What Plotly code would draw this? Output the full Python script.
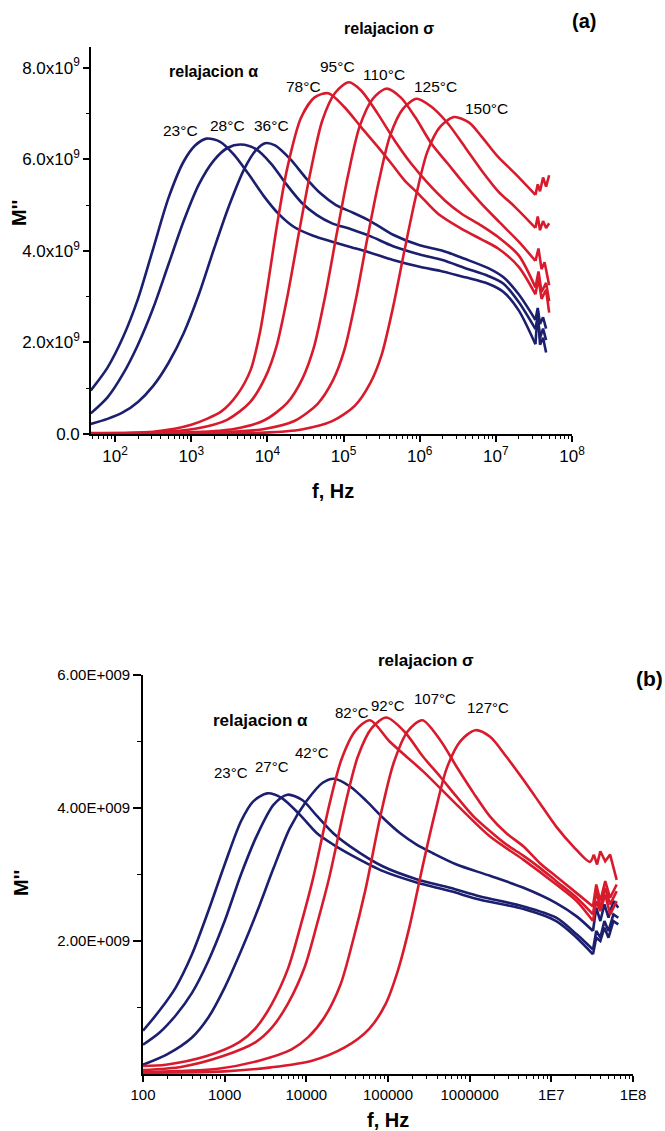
import plotly.graph_objects as go

W, H = 665, 1131
BLUE = "#1b1f6e"
RED = "#d81b2c"
FONT = "Liberation Sans, Arial, sans-serif"

# ---------------- Panel (a) data: log10(f/Hz) and M'' (x1e9) ----------------
a_23_logf = [1.68, 1.9, 2.1, 2.3, 2.5, 2.7, 2.9, 3.05, 3.2, 3.38, 3.56, 3.75, 3.95, 4.15, 4.35, 4.6, 4.85, 5.1, 5.35, 5.65, 6.0, 6.3, 6.6, 6.9, 7.1, 7.3, 7.52, 7.55, 7.58, 7.62, 7.66]
a_23_M = [0.95, 1.45, 2.1, 2.95, 4.05, 5.15, 5.95, 6.3, 6.45, 6.38, 6.1, 5.68, 5.2, 4.8, 4.52, 4.33, 4.2, 4.08, 3.96, 3.8, 3.65, 3.55, 3.42, 3.28, 3.1, 2.7, 1.96, 2.7, 1.95, 2.1, 1.78]

a_28_logf = [1.68, 1.9, 2.1, 2.3, 2.5, 2.7, 2.9, 3.1, 3.3, 3.48, 3.65, 3.85, 4.05, 4.25, 4.45, 4.65, 4.85, 5.1, 5.35, 5.65, 6.0, 6.3, 6.6, 6.9, 7.1, 7.3, 7.52, 7.55, 7.58, 7.62, 7.66]
a_28_M = [0.45, 0.8, 1.3, 1.95, 2.75, 3.7, 4.65, 5.45, 5.98, 6.25, 6.32, 6.22, 5.9, 5.45, 5.05, 4.78, 4.6, 4.47, 4.32, 4.1, 3.92, 3.8, 3.62, 3.45, 3.28, 2.88, 2.29, 2.55, 2.1, 2.3, 2.05]

a_36_logf = [1.68, 1.9, 2.1, 2.3, 2.5, 2.7, 2.9, 3.1, 3.3, 3.5, 3.7, 3.85, 3.97, 4.1, 4.3, 4.5, 4.7, 4.9, 5.1, 5.35, 5.65, 6.0, 6.3, 6.6, 6.9, 7.1, 7.3, 7.52, 7.55, 7.58, 7.62, 7.66]
a_36_M = [0.22, 0.33, 0.47, 0.7, 1.05, 1.55, 2.2, 3.05, 4.05, 5.0, 5.8, 6.2, 6.35, 6.3, 6.0, 5.6, 5.25, 5.0, 4.85, 4.65, 4.35, 4.12, 4.0, 3.82, 3.62, 3.42, 3.05, 2.49, 2.75, 2.4, 2.55, 2.3]

a_78_logf = [1.68, 2.5, 3.0, 3.4, 3.6, 3.78, 3.9, 4.0, 4.13, 4.26, 4.44, 4.62, 4.8, 5.01, 5.23, 5.45, 5.63, 5.8, 5.98, 6.24, 6.55, 6.81, 7.03, 7.3, 7.52, 7.56, 7.6, 7.66, 7.7]
a_78_M = [0.02, 0.05, 0.2, 0.5, 0.85, 1.4, 2.2, 3.2, 4.6, 5.8, 6.9, 7.35, 7.44, 7.14, 6.7, 6.27, 5.9, 5.54, 5.25, 4.81, 4.48, 4.25, 4.05, 3.65, 3.05, 3.4, 2.95, 3.15, 2.65]

a_95_logf = [1.68, 2.57, 3.07, 3.47, 3.77, 3.97, 4.12, 4.27, 4.42, 4.57, 4.72, 4.89, 5.07, 5.23, 5.45, 5.67, 5.89, 6.11, 6.33, 6.55, 6.81, 7.03, 7.3, 7.52, 7.56, 7.6, 7.66, 7.7]
a_95_M = [0.01, 0.04, 0.12, 0.31, 0.69, 1.23, 1.92, 3.07, 4.45, 5.76, 6.84, 7.45, 7.68, 7.5, 6.99, 6.41, 5.9, 5.47, 5.1, 4.81, 4.55, 4.3, 3.9, 3.2, 3.55, 3.1, 3.3, 2.9]

a_110_logf = [1.68, 3.06, 3.56, 3.96, 4.26, 4.46, 4.61, 4.76, 4.91, 5.06, 5.21, 5.38, 5.56, 5.75, 5.94, 6.15, 6.37, 6.59, 6.81, 7.05, 7.3, 7.52, 7.56, 7.6, 7.64, 7.7]
a_110_M = [0.0, 0.04, 0.11, 0.3, 0.68, 1.21, 1.89, 3.02, 4.37, 5.66, 6.71, 7.31, 7.54, 7.35, 6.92, 6.35, 5.9, 5.45, 5.03, 4.62, 4.2, 3.78, 4.05, 3.6, 3.75, 3.25]

a_125_logf = [1.68, 3.46, 3.96, 4.36, 4.66, 4.86, 5.01, 5.16, 5.31, 5.46, 5.61, 5.78, 5.96, 6.15, 6.37, 6.6, 6.81, 7.03, 7.25, 7.52, 7.55, 7.58, 7.62, 7.66, 7.7]
a_125_M = [0.0, 0.04, 0.11, 0.29, 0.66, 1.17, 1.83, 2.93, 4.25, 5.49, 6.51, 7.1, 7.32, 7.15, 6.78, 6.25, 5.76, 5.3, 4.96, 4.5, 4.75, 4.45, 4.65, 4.5, 4.6]

a_150_logf = [1.68, 3.0, 3.95, 4.45, 4.85, 5.15, 5.35, 5.5, 5.65, 5.8, 5.95, 6.1, 6.27, 6.45, 6.65, 6.81, 7.03, 7.25, 7.52, 7.55, 7.58, 7.62, 7.66, 7.7]
a_150_M = [0.0, 0.01, 0.03, 0.1, 0.28, 0.62, 1.11, 1.73, 2.77, 4.01, 5.19, 6.16, 6.71, 6.92, 6.8, 6.5, 6.05, 5.69, 5.22, 5.45, 5.3, 5.6, 5.4, 5.65]

# ---------------- Panel (b) data ----------------
b_23_logf = [2.0, 2.2, 2.4, 2.6, 2.8, 3.0, 3.2, 3.35, 3.52, 3.7, 3.92, 4.13, 4.33, 4.54, 4.94, 5.35, 5.76, 6.13, 6.66, 7.06, 7.31, 7.51, 7.55, 7.6, 7.65, 7.7, 7.76, 7.82]
b_23_M = [0.65, 0.95, 1.3, 1.8, 2.45, 3.15, 3.8, 4.1, 4.22, 4.15, 3.9, 3.62, 3.45, 3.3, 3.05, 2.88, 2.75, 2.62, 2.48, 2.3, 2.05, 1.8, 2.05, 2.0, 2.2, 2.05, 2.3, 2.25]

b_27_logf = [2.0, 2.2, 2.4, 2.6, 2.8, 3.0, 3.2, 3.4, 3.6, 3.77, 3.95, 4.13, 4.33, 4.54, 4.94, 5.35, 5.76, 6.13, 6.66, 7.06, 7.31, 7.51, 7.55, 7.6, 7.65, 7.7, 7.76, 7.82]
b_27_M = [0.44, 0.62, 0.88, 1.22, 1.7, 2.3, 3.0, 3.6, 4.05, 4.2, 4.12, 3.88, 3.62, 3.42, 3.12, 2.93, 2.8, 2.67, 2.52, 2.35, 2.1, 1.87, 2.15, 2.05, 2.3, 2.15, 2.4, 2.35]

b_42_logf = [2.0, 2.3, 2.6, 2.8, 3.0, 3.2, 3.4, 3.6, 3.8, 4.0, 4.2, 4.34, 4.54, 4.74, 4.94, 5.15, 5.35, 5.55, 5.84, 6.25, 6.66, 7.06, 7.31, 7.51, 7.55, 7.6, 7.65, 7.7, 7.76, 7.82]
b_42_M = [0.14, 0.3, 0.55, 0.85, 1.3, 1.85, 2.45, 3.1, 3.7, 4.1, 4.38, 4.44, 4.32, 4.1, 3.85, 3.62, 3.45, 3.32, 3.15, 2.98, 2.8, 2.57, 2.37, 2.15, 2.5, 2.3, 2.55, 2.35, 2.6, 2.5]

b_82_logf = [2.0, 2.28, 2.78, 3.18, 3.38, 3.58, 3.78, 3.93, 4.08, 4.28, 4.43, 4.6, 4.78, 5.02, 5.43, 5.84, 6.25, 6.66, 7.06, 7.31, 7.51, 7.55, 7.6, 7.66, 7.72, 7.8]
b_82_M = [0.12, 0.14, 0.27, 0.48, 0.69, 1.06, 1.6, 2.23, 2.93, 4.04, 4.73, 5.16, 5.32, 5.0, 4.55, 4.05, 3.57, 3.22, 2.85, 2.6, 2.3, 2.6, 2.45, 2.7, 2.4, 2.6]

b_92_logf = [2.0, 2.48, 2.98, 3.38, 3.58, 3.78, 3.98, 4.13, 4.28, 4.48, 4.63, 4.8, 4.98, 5.2, 5.43, 5.64, 5.84, 6.05, 6.25, 6.45, 6.66, 6.86, 7.06, 7.31, 7.51, 7.55, 7.6, 7.66, 7.72, 7.8]
b_92_M = [0.06, 0.11, 0.27, 0.48, 0.7, 1.07, 1.61, 2.25, 2.95, 4.07, 4.77, 5.2, 5.36, 5.15, 4.77, 4.47, 4.17, 3.87, 3.65, 3.45, 3.28, 3.1, 2.9, 2.65, 2.4, 2.75, 2.5, 2.8, 2.55, 2.75]

b_107_logf = [2.0, 2.92, 3.42, 3.82, 4.02, 4.22, 4.42, 4.57, 4.72, 4.92, 5.07, 5.24, 5.42, 5.64, 5.84, 6.05, 6.25, 6.45, 6.66, 6.86, 7.06, 7.31, 7.51, 7.55, 7.6, 7.66, 7.72, 7.8]
b_107_M = [0.03, 0.08, 0.2, 0.37, 0.55, 0.85, 1.35, 2.0, 2.75, 3.95, 4.68, 5.15, 5.32, 5.02, 4.62, 4.22, 3.87, 3.62, 3.42, 3.17, 2.97, 2.72, 2.52, 2.85, 2.6, 2.9, 2.65, 2.85]

b_127_logf = [2.0, 3.0, 3.57, 4.07, 4.47, 4.77, 4.97, 5.12, 5.27, 5.42, 5.57, 5.72, 5.89, 6.07, 6.25, 6.45, 6.66, 6.86, 7.06, 7.27, 7.47, 7.52, 7.56, 7.6, 7.66, 7.72, 7.8]
b_127_M = [0.02, 0.04, 0.1, 0.2, 0.4, 0.68, 1.05, 1.55, 2.25, 3.1, 3.9, 4.6, 5.01, 5.17, 5.07, 4.77, 4.42, 4.07, 3.72, 3.42, 3.19, 3.3, 3.15, 3.35, 3.2, 3.3, 2.92]

a_curves = [
    ("23°C", a_23_logf, a_23_M, BLUE), ("28°C", a_28_logf, a_28_M, BLUE), ("36°C", a_36_logf, a_36_M, BLUE),
    ("78°C", a_78_logf, a_78_M, RED), ("95°C", a_95_logf, a_95_M, RED), ("110°C", a_110_logf, a_110_M, RED),
    ("125°C", a_125_logf, a_125_M, RED), ("150°C", a_150_logf, a_150_M, RED),
]
b_curves = [
    ("23°C", b_23_logf, b_23_M, BLUE), ("27°C", b_27_logf, b_27_M, BLUE), ("42°C", b_42_logf, b_42_M, BLUE),
    ("82°C", b_82_logf, b_82_M, RED), ("92°C", b_92_logf, b_92_M, RED), ("107°C", b_107_logf, b_107_M, RED),
    ("127°C", b_127_logf, b_127_M, RED),
]

NOISE_FROM = 7.525

fig = go.Figure()


def add_curve(name, logf, M, color, xa, ya):
    f = [10 ** v for v in logf]
    y = [v * 1e9 for v in M]
    n = sum(1 for v in logf if v <= NOISE_FROM)
    fig.add_trace(go.Scatter(x=f[:n], y=y[:n], mode="lines", name=name, xaxis=xa, yaxis=ya,
                             line=dict(color=color, width=2.6, shape="spline", smoothing=0.8),
                             showlegend=False, hoverinfo="skip"))
    if n < len(f):
        fig.add_trace(go.Scatter(x=f[n - 1:], y=y[n - 1:], mode="lines", xaxis=xa, yaxis=ya,
                                 line=dict(color=color, width=2.6), showlegend=False, hoverinfo="skip"))


for name, lf, m, c in a_curves:
    add_curve(name, lf, m, c, "x", "y")
for name, lf, m, c in b_curves:
    add_curve(name, lf, m, c, "x2", "y2")


def px_x(p):
    return p / W


def px_y(p):
    return 1 - p / H


minor_a = [k * 10 ** d for d in range(1, 8) for k in range(2, 10) if 48 <= k * 10 ** d <= 1e8]
minor_b = [k * 10 ** d for d in range(2, 8) for k in range(2, 10)]

axis_common = dict(showline=True, linecolor="black", linewidth=1.6, ticks="outside", tickcolor="black",
                   tickwidth=1.5, showgrid=False, zeroline=False, mirror=False, automargin=False)

fig.update_layout(
    width=W, height=H, autosize=False, margin=dict(l=0, r=0, t=0, b=0, pad=0),
    paper_bgcolor="white", plot_bgcolor="white",
    font=dict(family=FONT, color="black"),
    xaxis=dict(type="log", range=[1.683, 8.0], domain=[px_x(91), px_x(572)], anchor="y",
               tickvals=[10 ** d for d in range(2, 9)],
               ticktext=[f"10<sup>{d}</sup>" for d in range(2, 9)],
               ticklen=6, tickfont=dict(size=17),
               minor=dict(tickmode="array", tickvals=minor_a, ticks="outside", ticklen=3, tickcolor="black", tickwidth=1),
               **axis_common),
    yaxis=dict(range=[0, 8.45e9], domain=[px_y(434), px_y(47)], anchor="x",
               tickvals=[0, 2e9, 4e9, 6e9, 8e9],
               ticktext=["0.0", "2.0x10<sup>9</sup>", "4.0x10<sup>9</sup>", "6.0x10<sup>9</sup>", "8.0x10<sup>9</sup>"],
               ticklen=6, tickfont=dict(size=17),
               minor=dict(tickmode="array", tickvals=[1e9, 3e9, 5e9, 7e9], ticks="outside", ticklen=3, tickcolor="black", tickwidth=1),
               **axis_common),
    xaxis2=dict(type="log", range=[2.0, 8.0], domain=[px_x(143), px_x(633)], anchor="y2",
                tickvals=[10 ** d for d in range(2, 9)],
                ticktext=["100", "1000", "10000", "100000", "1000000", "1E7", "1E8"],
                ticklen=6, tickfont=dict(size=15),
                minor=dict(tickmode="array", tickvals=minor_b, ticks="outside", ticklen=3, tickcolor="black", tickwidth=1),
                **axis_common),
    yaxis2=dict(range=[0, 6e9], domain=[px_y(1074), px_y(675)], anchor="x2",
                tickvals=[2e9, 4e9, 6e9],
                ticktext=["2.00E+009", "4.00E+009", "6.00E+009"],
                ticklen=8, tickfont=dict(size=15),
                minor=dict(tickmode="array", tickvals=[1e9, 3e9, 5e9], ticks="outside", ticklen=4, tickcolor="black", tickwidth=1),
                **axis_common),
)

ann = []


def label(text, x, y, size=14, bold=False, angle=0):
    t = f"<b>{text}</b>" if bold else text
    ann.append(dict(text=t, x=px_x(x), y=px_y(y), xref="paper", yref="paper", showarrow=False,
                    xanchor="center", yanchor="middle", textangle=angle,
                    font=dict(size=size, family=FONT, color="black")))


# panel (a)
label("relajacion σ", 389, 28, 16, True)
label("(a)", 584, 21, 20, True)
label("relajacion α", 213, 71, 16, True)
for t, x, y in [("23°C", 180, 131), ("28°C", 227, 125), ("36°C", 271, 125), ("78°C", 303, 86),
                ("95°C", 337, 67), ("110°C", 384, 75), ("125°C", 435, 87), ("150°C", 486, 109)]:
    label(t, x, y, 15.5)
label("f, Hz", 333, 491, 20, True)
label("M''", 19, 213, 20, True, -90)

# panel (b)
label("relajacion σ", 426, 660, 17, True)
label("(b)", 649, 678, 21, True)
label("relajacion α", 260, 720, 17, True)
for t, x, y in [("23°C", 231, 772), ("27°C", 272, 767), ("42°C", 312, 752), ("82°C", 352, 712),
                ("92°C", 388, 705), ("107°C", 435, 698), ("127°C", 488, 707)]:
    label(t, x, y, 15)
label("f, Hz", 388, 1120, 20, True)
label("M''", 21, 883, 20, True, -90)

fig.update_layout(annotations=ann)
fig.write_html(
    "out.html",
    config={"responsive": False},
    post_script="document.body.style.margin='0px';document.body.style.padding='0px';"
                "document.documentElement.style.overflow='hidden';",
)
